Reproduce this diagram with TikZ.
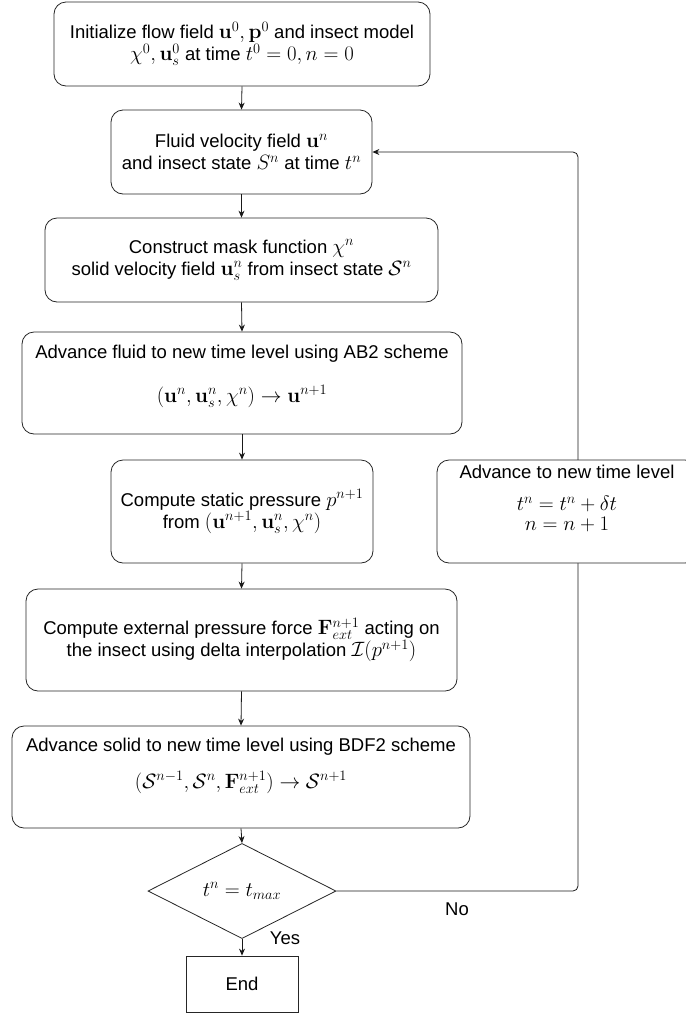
\documentclass[tikz,border=0pt]{standalone}
\usepackage[no-math]{fontspec}
\setmainfont{Liberation Sans}
\DeclareMathSizes{18.5}{21.5}{15.5}{12}
\usetikzlibrary{shapes.geometric,arrows.meta}
\tikzset{
  every node/.style={font=\fontsize{18.5}{22}\selectfont},
  stepbox/.style={draw=black!85, line width=0.8pt, rounded corners=12pt, align=center, inner sep=0pt, fill=white},
  decision/.style={draw=black!85, line width=0.8pt, diamond, inner sep=0pt, fill=white},
  endbox/.style={draw=black!85, line width=0.8pt, rectangle, inner sep=0pt, fill=white},
  flow/.style={draw=black!90, line width=0.8pt, -{Stealth[length=7pt,width=6pt]}},
  lbl/.style={inner sep=0pt}
}
\begin{document}
\begin{tikzpicture}[x=1pt,y=-1pt]
\useasboundingbox (0,0) rectangle (686,1013);
\clip (0,0) rectangle (686,1013);

\node[stepbox, minimum width=376pt, minimum height=84pt] (b1) at (242,44)
  {Initialize flow field $\mathbf{u}^0, \mathbf{p}^0$ and insect model\\ $\chi^0, \mathbf{u}_s^0$ at time $t^0 = 0, n = 0$};
\node[stepbox, minimum width=261pt, minimum height=84pt] (b2) at (241.5,152)
  {Fluid velocity field $\mathbf{u}^n$\\ and insect state $S^n$ at time $t^n$};
\node[stepbox, minimum width=393pt, minimum height=84pt] (b3) at (241.5,260)
  {Construct mask function $\chi^n$\\ solid velocity field $\mathbf{u}_s^n$ from insect state $\mathcal{S}^n$};
\node[stepbox, minimum width=440pt, minimum height=102pt] (b4) at (242,383)
  {Advance fluid to new time level using AB2 scheme\\[22pt] $(\mathbf{u}^n, \mathbf{u}_s^n, \chi^n) \rightarrow \mathbf{u}^{n+1}$\\[-3pt]\mbox{}};
\node[stepbox, minimum width=262pt, minimum height=103pt] (b5) at (242,511.5)
  {Compute static pressure $p^{n+1}$\\ from $(\mathbf{u}^{n+1}, \mathbf{u}_s^n, \chi^n)$};
\node[stepbox, minimum width=431pt, minimum height=102pt] (b6) at (241.5,640)
  {Compute external pressure force $\mathbf{F}_{ext}^{n+1}$ acting on\\ the insect using delta interpolation $\mathcal{I}(p^{n+1})$};
\node[stepbox, minimum width=458pt, minimum height=102pt] (b7) at (241,777)
  {Advance solid to new time level using BDF2 scheme\\[15pt] $(\mathcal{S}^{n-1}, \mathcal{S}^n, \mathbf{F}_{ext}^{n+1}) \rightarrow \mathcal{S}^{n+1}$\\[6pt]\mbox{}};
\node[decision, minimum width=188pt, minimum height=74pt] (d) at (242,891) {$t^n = t_{max}$};
\node[endbox, minimum width=112pt, minimum height=56pt] (e) at (242,984) {End};

\coordinate (c1) at (578,891);
\coordinate (c2) at (578,152);
\draw[flow, rounded corners=5pt] (d.east) -- (c1) -- (c2) -- (b2.east);

\node[stepbox, minimum width=260pt, minimum height=103pt] (r) at (567,511.5)
  {Advance to new time level\\[10pt] $t^n = t^n + \delta t$\\[-2pt] $n = n + 1$\\[5pt]\mbox{}};

\draw[flow] (b1.south) -- (b2.north);
\draw[flow] (b2.south) -- (b3.north);
\draw[flow] (b3.south) -- (b4.north);
\draw[flow] (b4.south) -- (b5.north);
\draw[flow] (b5.south) -- (b6.north);
\draw[flow] (b6.south) -- (b7.north);
\draw[flow] (b7.south) -- (d.north);
\draw[flow] (d.south) -- (e.north);

\node[lbl] (yes) at (285,938) {Yes};
\node[lbl] (no) at (457,909) {No};
\end{tikzpicture}
\end{document}
